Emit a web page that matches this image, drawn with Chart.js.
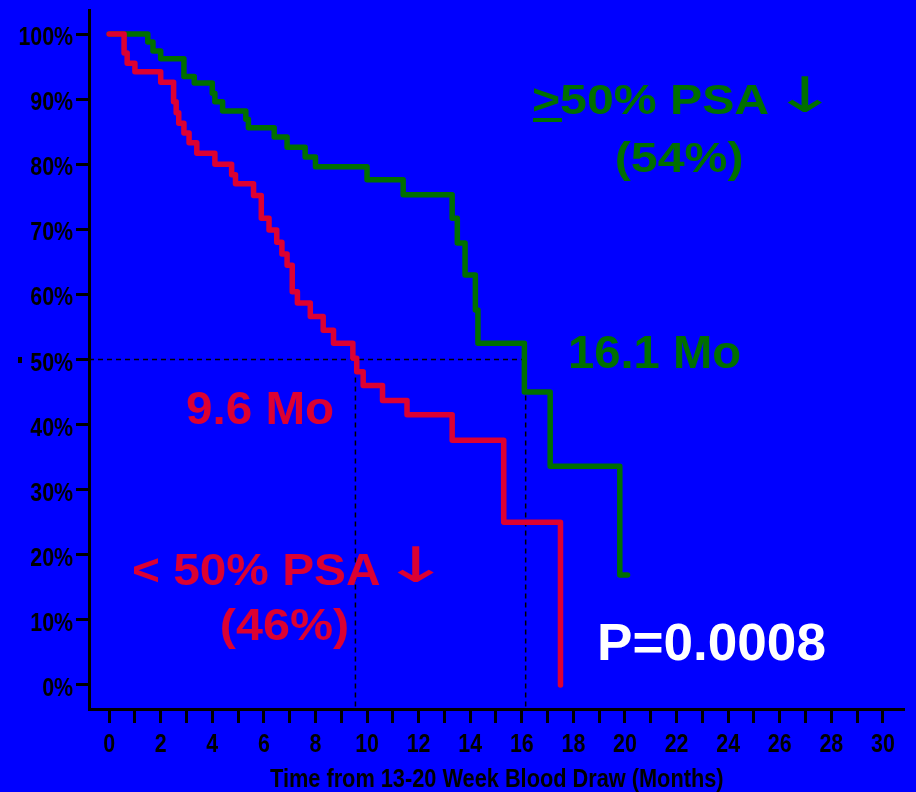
<!DOCTYPE html>
<html>
<head>
<meta charset="utf-8">
<script src="https://cdn.jsdelivr.net/npm/chart.js@4.4.1/dist/chart.umd.min.js"></script>
<style>
  html, body { margin: 0; padding: 0; background: #0000ff; }
  #wrap { width: 916px; height: 792px; position: relative; }
</style>
</head>
<body>
<div id="wrap"><canvas id="km"></canvas></div>
<script>
// Kaplan-Meier steps (months, % still progression-free)
const redMonths   = [0, 0.58, 0.7, 1.0, 2.0, 2.5, 2.6, 2.7, 2.9, 3.1, 3.4, 4.1, 4.75, 4.9, 5.6, 5.9, 6.2, 6.5, 6.7, 6.9, 7.1, 7.3, 7.8, 8.3, 8.7, 9.45, 9.6, 9.85, 10.6, 11.55, 13.3, 15.3, 17.5];
const redPercent  = [100, 97.1, 95.5, 94.2, 92.6, 89.6, 87.9, 86.3, 84.8, 83.3, 81.7, 80.0, 78.4, 77.0, 75.2, 71.7, 69.9, 68.0, 66.2, 64.5, 60.4, 58.7, 56.6, 54.5, 52.5, 50.2, 48.1, 46.0, 43.7, 41.5, 37.6, 25.0, 0];

const greenMonths  = [0, 1.5, 1.7, 2.0, 2.9, 3.3, 4.0, 4.1, 4.4, 5.3, 5.4, 6.4, 6.9, 7.6, 8.0, 10.0, 11.4, 13.3, 13.5, 13.8, 14.2, 14.3, 16.1, 17.1, 19.8, 20.1];
const greenPercent = [100, 98.8, 97.4, 96.2, 93.5, 92.5, 90.9, 89.6, 88.2, 86.9, 85.6, 84.2, 82.6, 81.1, 79.6, 77.6, 75.3, 71.7, 67.9, 63.0, 57.6, 52.5, 45.0, 33.6, 16.9, 16.9];

// medians (dashed guides) for <50% and >=50% groups
const medianMonths = [9.55, 16.15];
const medianLevel = 50;

const xTicks = [0, 1, 2, 3, 4, 5, 6, 7, 8, 9, 10, 11, 12, 13, 14, 15, 16, 17, 18, 19, 20, 21, 22, 23, 24, 25, 26, 27, 28, 29, 30];
const yTicks = [0, 10, 20, 30, 40, 50, 60, 70, 80, 90, 100];

const X_MIN = -0.78, X_MAX = 30.78;
const Y_MIN = -3.7, Y_MAX = 103.7;

const RED = '#dc0032';
const GREEN = '#006e00';
const sans = "'Liberation Sans', Arial, sans-serif";
const NARROW = 0.82;   // the slide used a condensed face for the axes

function toPoints(xs, ys) {
  return xs.map((x, i) => ({ x: x, y: ys[i] }));
}

// draw text squeezed/stretched so its ink spans [left, right]
function fitText(ctx, text, left, right, baseline, size, color, family) {
  ctx.save();
  ctx.font = 'bold ' + size + 'px ' + (family || sans);
  ctx.fillStyle = color;
  ctx.textBaseline = 'alphabetic';
  ctx.textAlign = 'left';
  const m = ctx.measureText(text);
  const ink = m.actualBoundingBoxLeft + m.actualBoundingBoxRight;
  const sx = (right - left) / ink;
  ctx.translate(left, baseline);
  ctx.scale(sx, 1);
  ctx.fillText(text, m.actualBoundingBoxLeft, 0);
  ctx.restore();
}

// arrow glyph fitted into a box
function fitGlyph(ctx, text, left, right, top, bottom, color) {
  ctx.save();
  ctx.font = '40px ' + "'DejaVu Sans', sans-serif";
  ctx.fillStyle = color;
  ctx.textBaseline = 'alphabetic';
  ctx.textAlign = 'left';
  const m = ctx.measureText(text);
  const w = m.actualBoundingBoxLeft + m.actualBoundingBoxRight;
  const h = m.actualBoundingBoxAscent + m.actualBoundingBoxDescent;
  ctx.translate(left, top);
  ctx.scale((right - left) / w, (bottom - top) / h);
  ctx.fillText(text, m.actualBoundingBoxLeft, m.actualBoundingBoxAscent);
  ctx.restore();
}

function narrowText(ctx, text, x, y, align) {
  ctx.save();
  ctx.translate(x, y);
  ctx.scale(NARROW, 1);
  ctx.textAlign = align;
  ctx.fillText(text, 0, 0);
  ctx.restore();
}

const labelsPlugin = {
  id: 'labels',
  beforeDraw(chart) {
    const ctx = chart.ctx;
    ctx.save();
    ctx.fillStyle = '#0000ff';
    ctx.fillRect(0, 0, chart.width, chart.height);
    ctx.restore();
  },
  afterDraw(chart) {
    const ctx = chart.ctx;
    const xs = chart.scales.x, ys = chart.scales.y;

    // axis tick labels
    ctx.save();
    ctx.fillStyle = '#000';
    ctx.font = 'bold 26px ' + sans;
    ctx.textBaseline = 'alphabetic';
    xs.ticks.forEach(t => {
      if (t.value % 2 === 0) narrowText(ctx, String(t.value), xs.getPixelForValue(t.value), 752, 'center');
    });
    ys.ticks.forEach(t => {
      narrowText(ctx, t.value + '%', 73, ys.getPixelForValue(t.value) + 11, 'right');
    });
    ctx.restore();
    fitText(ctx, 'Time from 13-20 Week Blood Draw (Months)', 270, 723, 787, 26, '#000');

    // group annotations
    fitText(ctx, '>50% PSA', 533, 768, 114, 43, GREEN);
    fitGlyph(ctx, '\u2193', 787, 823, 75, 113, GREEN);
    ctx.save();
    ctx.fillStyle = GREEN;
    ctx.fillRect(533, 118, 29, 4);
    ctx.restore();
    fitText(ctx, '(54%)', 617, 742, 172, 43, GREEN);
    fitText(ctx, '16.1 Mo', 570, 740, 368, 46, GREEN);

    fitText(ctx, '9.6 Mo', 187, 333, 424, 46, RED);
    fitText(ctx, '< 50% PSA', 133, 380, 585, 45, RED);
    fitGlyph(ctx, '\u2193', 397, 435, 545, 583, RED);
    fitText(ctx, '(46%)', 222, 347, 640, 45, RED);

    fitText(ctx, 'P=0.0008', 600, 825, 660, 52, '#ffffff');

    ctx.save();
    ctx.fillStyle = '#000';
    ctx.fillRect(18, 357, 4, 6);
    ctx.restore();
  }
};

const dashStyle = {
  borderColor: '#000',
  borderWidth: 1.5,
  borderDash: [5, 4],
  pointRadius: 0,
  fill: false,
  order: 3
};

new Chart(document.getElementById('km'), {
  type: 'line',
  data: {
    datasets: [
      {
        label: '< 50% PSA',
        data: toPoints(redMonths, redPercent),
        borderColor: RED,
        borderWidth: 5.5,
        stepped: true,
        pointRadius: 0,
        borderCapStyle: 'round',
        borderJoinStyle: 'round',
        fill: false,
        order: 0
      },
      {
        label: '>=50% PSA',
        data: toPoints(greenMonths, greenPercent),
        borderColor: GREEN,
        borderWidth: 5.5,
        stepped: true,
        pointRadius: 0,
        borderCapStyle: 'round',
        borderJoinStyle: 'round',
        fill: false,
        order: 1
      },
      Object.assign({ label: 'median line', data: [{ x: X_MIN, y: medianLevel }, { x: medianMonths[1], y: medianLevel }] }, dashStyle),
      Object.assign({ label: 'median red', data: [{ x: medianMonths[0], y: medianLevel }, { x: medianMonths[0], y: Y_MIN }] }, dashStyle),
      Object.assign({ label: 'median green', data: [{ x: medianMonths[1], y: medianLevel }, { x: medianMonths[1], y: Y_MIN }] }, dashStyle)
    ]
  },
  options: {
    responsive: true,
    maintainAspectRatio: false,
    animation: false,
    layout: { padding: { top: 10, right: 13, left: 0, bottom: 0 } },
    plugins: {
      legend: { display: false },
      tooltip: { enabled: false }
    },
    scales: {
      x: {
        type: 'linear',
        min: X_MIN,
        max: X_MAX,
        afterBuildTicks: s => { s.ticks = xTicks.map(v => ({ value: v })); },
        afterFit: s => { s.height = 83; },
        ticks: { display: false },
        grid: { drawOnChartArea: false, drawTicks: true, tickLength: 14, color: '#000', lineWidth: 3 },
        border: { display: true, color: '#000', width: 3 }
      },
      y: {
        type: 'linear',
        min: Y_MIN,
        max: Y_MAX,
        afterBuildTicks: s => { s.ticks = yTicks.map(v => ({ value: v })); },
        afterFit: s => { s.width = 89; },
        ticks: { display: false },
        grid: { drawOnChartArea: false, drawTicks: true, tickLength: 13, color: '#000', lineWidth: 3 },
        border: { display: true, color: '#000', width: 3 }
      }
    }
  },
  plugins: [labelsPlugin]
});
</script>
</body>
</html>
